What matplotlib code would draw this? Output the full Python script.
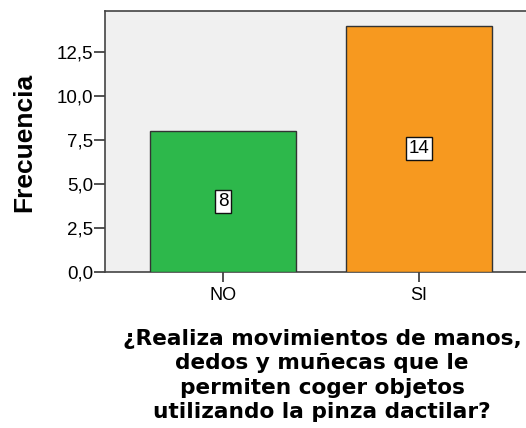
import matplotlib
matplotlib.use("Agg")
import matplotlib.pyplot as plt
from matplotlib.ticker import FixedLocator, FixedFormatter

categories = ["NO", "SI"]
values = [8, 14]
colors = ["#2db84b", "#f7991f"]
ytick_vals = [0, 2.5, 5, 7.5, 10, 12.5]
ytick_labels = ["0,0", "2,5", "5,0", "7,5", "10,0", "12,5"]
xlabel = "¿Realiza movimientos de manos,\ndedos y muñecas que le\npermiten coger objetos\nutilizando la pinza dactilar?"
ylabel = "Frecuencia"

W, H = 526, 428
fig = plt.figure(figsize=(W / 100, H / 100), dpi=100)
left, right, top, bottom = 105, 537, 11, 272
ax = fig.add_axes([left / W, 1 - bottom / H, (right - left) / W, (bottom - top) / H])
ax.set_facecolor("#f0f0f0")

x = list(range(len(categories)))
ax.bar(x, values, width=0.745, color=colors, edgecolor="#333333", linewidth=1.0, zorder=3)
for xi, v in zip(x, values):
    ax.text(xi, v / 2, str(v), ha="center", va="center", fontsize=13.5,
            family="Liberation Sans",
            bbox=dict(boxstyle="square,pad=0.15", fc="white", ec="#111111", lw=1.0), zorder=4)

ax.set_xlim(-0.602, 1.602)
ax.set_ylim(0, 14.83)
ax.set_xticks(x)
ax.set_xticklabels(categories, fontsize=13, family="Liberation Sans")
ax.yaxis.set_major_locator(FixedLocator(ytick_vals))
ax.yaxis.set_major_formatter(FixedFormatter(ytick_labels))
for lab in ax.get_yticklabels():
    lab.set_family("Liberation Sans")
ax.tick_params(axis="y", labelsize=13.5, length=8, width=1.2, color="#333333", pad=0.5)
ax.tick_params(axis="x", length=7, width=1.2, color="#333333", pad=4)
for s in ax.spines.values():
    s.set_color("#444444")
    s.set_linewidth(1.2)

fig.text(24 / W, 1 - 142 / H, ylabel, rotation=90, ha="center", va="center",
         fontsize=19, fontweight="bold", family="Liberation Sans")
fig.text(322 / W, 1 - 329 / H, xlabel, ha="center", va="top", multialignment="center",
         fontsize=15.6, fontweight="bold", linespacing=1.27)

fig.savefig("out.png", dpi=100)
